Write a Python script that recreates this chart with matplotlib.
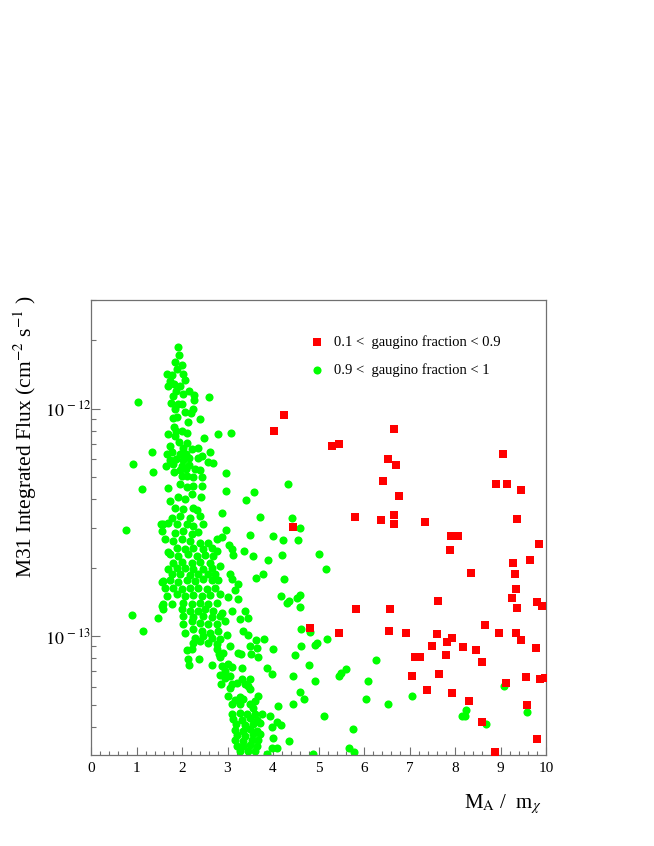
import matplotlib
matplotlib.use("Agg")
import matplotlib.pyplot as plt
import numpy as np
from matplotlib.ticker import MultipleLocator, FixedLocator, NullFormatter

plt.rcParams['font.family'] = ['Liberation Serif', 'DejaVu Serif']
plt.rcParams['mathtext.fontset'] = 'stix'

# 0.1 < gaugino fraction < 0.9  (x = M_A / m_chi, y = log10 flux)
red_x = [4.25, 4.02, 6.67, 5.30, 5.44, 6.52, 6.71, 6.41, 6.78, 5.80, 6.38, 6.67, 6.67, 7.33,
         4.44, 7.91, 8.07, 9.06, 8.91, 9.14, 9.46, 9.37, 7.90, 9.85, 9.65, 9.28, 8.35, 9.31,
         9.33, 9.25, 9.36, 7.63, 5.82, 6.58, 9.80, 9.92, 8.65, 4.82, 5.46, 6.56, 6.92, 7.61,
         7.94, 7.82, 7.49, 8.18, 8.96, 9.33, 9.46, 9.78, 7.11, 7.22, 7.80, 8.46, 8.59, 7.06,
         7.64, 7.38, 7.94, 8.31, 9.12, 9.57, 9.86, 9.98, 9.59, 8.60, 9.81, 8.88]
red_logflux = [-12.028, -12.099, -12.091, -12.164, -12.154, -12.223, -12.248, -12.320, -12.384,
               -12.477, -12.488, -12.468, -12.507, -12.499, -12.519, -12.562, -12.562, -12.200,
               -12.332, -12.333, -12.359, -12.484, -12.620, -12.595, -12.667, -12.680, -12.724,
               -12.727, -12.792, -12.834, -12.878, -12.846, -12.880, -12.880, -12.849, -12.869,
               -12.952, -12.966, -12.985, -12.978, -12.987, -12.993, -13.007, -13.025, -13.044,
               -13.050, -12.988, -12.988, -13.018, -13.051, -13.091, -13.094, -13.084, -13.063,
               -13.113, -13.174, -13.168, -13.237, -13.249, -13.287, -13.208, -13.180, -13.187,
               -13.183, -13.305, -13.378, -13.454, -13.508]

# 0.9 < gaugino fraction < 1
green_x = [
    1.92, 1.94, 1.85, 2.01, 1.89, 1.68, 1.78, 2.03, 2.07, 1.74, 1.83, 1.70, 1.96, 1.87, 2.16,
    2.03, 1.81, 2.27, 2.59, 2.27, 1.76, 1.92, 2.01, 1.85, 2.24, 2.07, 2.19, 1.81, 1.89, 2.40,
    2.13, 1.83, 1.87, 2.00, 1.70, 2.11, 2.79, 3.08, 2.49, 1.85, 1.94, 2.12, 1.74, 2.03, 2.22,
    2.35, 1.34, 1.67, 1.78, 1.96, 2.09, 2.62, 2.44, 2.36, 1.74, 1.87, 2.03, 2.16, 2.58, 2.69,
    1.65, 1.81, 2.00, 2.16, 1.36, 1.83, 1.96, 2.09, 2.29, 2.40, 2.97, 2.00, 2.11, 2.25, 2.44,
    1.03, 0.92, 1.12, 0.77, 0.90, 1.14, 1.47, 1.55, 1.55, 1.54,
    1.70, 1.96, 2.11, 2.25, 2.44, 2.96, 3.59, 3.41, 1.74, 1.92, 2.07, 2.22, 2.41, 1.85, 2.03,
    2.25, 2.33, 2.88, 3.72, 1.78, 1.96, 2.18, 2.40, 1.59, 1.70, 1.89, 2.11, 2.25, 2.47, 1.56,
    2.97, 1.85, 2.03, 2.22, 2.36, 3.50, 2.88, 2.77, 1.63, 1.81, 2.00, 2.18, 2.40, 2.58, 3.04,
    3.10, 1.89, 2.07, 2.25, 2.47, 2.66, 3.37, 1.70, 2.77, 2.69, 3.11, 3.55, 1.74, 1.92, 2.14,
    2.33, 2.51, 3.88, 1.81, 2.00, 2.22, 2.40, 2.62, 1.70, 1.89, 2.07, 2.25, 2.47, 2.66, 2.84,
    1.78, 1.96, 2.18, 2.36, 2.58, 2.73, 3.79, 3.06, 3.63, 1.59, 1.74, 1.92, 2.11, 2.29, 2.47,
    2.66, 2.80, 3.10, 3.22, 1.63, 1.81, 2.00, 2.18, 2.36, 2.55, 2.73, 3.17, 1.67, 1.89, 2.07,
    2.25, 2.44, 2.62, 2.84, 3.02, 3.22, 1.59, 1.78, 2.03, 2.22, 2.40, 2.58, 2.77, 1.59, 2.00,
    2.18, 2.36, 2.51, 2.69, 2.88, 3.10, 3.39, 2.03, 2.25, 2.47, 2.66, 2.84, 3.28, 3.46,
    4.33, 4.42, 4.59, 4.00, 4.23, 4.54, 4.20, 5.00, 5.17, 4.25, 4.17, 4.60, 4.52, 4.36, 4.31,
    4.60,
    2.03, 2.22, 2.40, 2.58, 2.77, 2.95, 3.34, 2.07, 2.25, 2.44, 2.62, 2.80, 3.44, 2.99, 2.29,
    2.47, 2.66, 2.84, 3.63, 2.25, 2.40, 2.58, 2.77, 3.06, 3.50, 3.65, 4.01, 2.11, 2.22, 2.77,
    2.82, 2.91, 3.22, 3.29, 3.51, 2.84, 3.68, 2.14, 2.38, 2.16, 2.66, 2.88, 3.02, 3.10, 3.32,
    3.87, 2.95, 3.98, 4.44, 2.84, 2.95, 3.06, 3.32, 3.50, 3.39, 3.46, 2.85, 3.10, 3.21, 3.06,
    3.50, 3.02, 3.28, 3.68, 3.17, 3.35, 3.61, 3.10, 3.28, 3.50, 4.12, 4.45, 3.57, 3.10, 3.28,
    3.43, 3.61, 3.76, 3.94, 3.13, 3.32, 3.50, 3.65, 4.09, 3.19, 3.39, 3.57, 3.72, 3.98, 4.17,
    3.17, 3.35, 3.50, 3.65, 3.21, 3.39, 3.57, 3.72, 3.17, 3.35, 3.54, 3.68, 4.01, 4.36, 3.21,
    3.35, 3.50, 3.65, 3.98, 4.09, 3.28, 3.46, 3.61, 3.87,
    4.61, 4.81, 4.62, 4.93, 4.97, 5.19, 4.48, 4.80, 6.27, 4.92, 5.44, 5.50, 5.60, 6.08, 4.59,
    4.68, 6.05, 6.52, 7.05, 5.13, 5.75, 5.68, 5.79, 4.87, 8.24, 8.16, 8.23, 8.68, 9.07, 9.59,
    3.81]
green_logflux = [
    -11.729, -11.764, -11.795, -11.810, -11.824, -11.846, -11.852, -11.849, -11.876, -11.879,
    -11.890, -11.903, -11.901, -11.923, -11.925, -11.934, -11.945, -11.942, -11.949, -11.964,
    -11.974, -11.981, -11.978, -12.003, -12.003, -12.013, -12.021, -12.043, -12.037, -12.047,
    -12.057, -12.081, -12.099, -12.099, -12.110, -12.106, -12.112, -12.109, -12.128, -12.120,
    -12.145, -12.150, -12.164, -12.172, -12.179, -12.175, -12.191, -12.201, -12.193, -12.198,
    -12.198, -12.193, -12.208, -12.219, -12.227, -12.223, -12.227, -12.219, -12.235, -12.241,
    -12.252, -12.242, -12.252, -12.249, -12.281, -12.277, -12.271, -12.267, -12.267, -12.271,
    -12.285, -12.296, -12.296, -12.301, -12.301,
    -11.971, -12.245, -12.355, -12.534, -12.908, -12.979, -12.919, -12.761, -12.868, -12.509,
    -12.350, -12.333, -12.347, -12.340, -12.340, -12.362, -12.369, -12.403, -12.406, -12.391,
    -12.399, -12.377, -12.391, -12.435, -12.443, -12.435, -12.447, -12.457, -12.477, -12.479,
    -12.472, -12.479, -12.472, -12.509, -12.501, -12.509, -12.506, -12.516, -12.509, -12.538,
    -12.535, -12.545, -12.538, -12.550, -12.541, -12.556, -12.565, -12.572, -12.575, -12.582,
    -12.575, -12.582, -12.589, -12.589, -12.600, -12.619, -12.611, -12.619, -12.614, -12.619,
    -12.611, -12.626, -12.629, -12.626, -12.648, -12.644, -12.648, -12.641, -12.648, -12.641,
    -12.648, -12.644, -12.667, -12.677, -12.673, -12.677, -12.673, -12.677, -12.707, -12.699,
    -12.702, -12.707, -12.704, -12.699, -12.692, -12.729, -12.729, -12.732, -12.726, -12.729,
    -12.726, -12.726, -12.729, -12.746, -12.758, -12.755, -12.761, -12.755, -12.758, -12.751,
    -12.755, -12.755, -12.751, -12.770, -12.790, -12.787, -12.795, -12.787, -12.790, -12.795,
    -12.787, -12.799, -12.824, -12.817, -12.824, -12.820, -12.824, -12.820, -12.814, -12.828,
    -12.839, -12.861, -12.858, -12.853, -12.861, -12.853, -12.858, -12.853, -12.883, -12.883,
    -12.890, -12.890, -12.883, -12.890, -12.897, -12.890, -12.890, -12.912, -12.916, -12.912,
    -12.916, -12.912, -12.927, -12.922,
    -12.332, -12.482, -12.525, -12.560, -12.578, -12.578, -12.645, -12.639, -12.704, -12.748,
    -12.824, -12.820, -12.833, -12.844, -12.853, -12.872,
    -12.949, -12.934, -12.941, -12.949, -12.945, -12.934, -12.978, -12.985, -12.971, -12.978,
    -12.985, -12.978, -12.996, -12.996, -13.007, -13.000, -13.010, -13.015, -13.019, -13.029,
    -13.022, -13.029, -13.037, -13.044, -13.044, -13.054, -13.058, -13.063, -13.055, -13.058,
    -13.077, -13.073, -13.073, -13.080, -13.077, -13.092, -13.092, -13.102, -13.099, -13.128,
    -13.128, -13.132, -13.124, -13.136, -13.142, -13.142, -13.154, -13.168, -13.176, -13.171,
    -13.183, -13.176, -13.190, -13.190, -13.212, -13.220, -13.212, -13.212, -13.205, -13.227,
    -13.234, -13.264, -13.268, -13.264, -13.283, -13.278, -13.286, -13.300, -13.300, -13.297,
    -13.308, -13.300, -13.318, -13.341, -13.337, -13.344, -13.344, -13.344, -13.352, -13.366,
    -13.371, -13.362, -13.371, -13.376, -13.388, -13.393, -13.388, -13.381, -13.400, -13.391,
    -13.415, -13.418, -13.410, -13.418, -13.435, -13.440, -13.432, -13.429, -13.459, -13.462,
    -13.459, -13.459, -13.450, -13.462, -13.484, -13.484, -13.479, -13.484, -13.491, -13.491,
    -13.506, -13.506, -13.506, -13.520,
    -12.971, -12.982, -13.044, -13.040, -13.031, -13.013, -13.085, -13.126, -13.107, -13.198,
    -13.176, -13.164, -13.146, -13.196, -13.248, -13.277, -13.278, -13.299, -13.265, -13.352,
    -13.409, -13.491, -13.508, -13.520, -13.325, -13.350, -13.350, -13.385, -13.220, -13.332,
    -13.015]

red_label = "0.1 <  gaugino fraction < 0.9"
green_label = "0.9 <  gaugino fraction < 1"
y_major = [1e-13, 1e-12]

fig = plt.figure(figsize=(6.54, 8.46), dpi=100)
ax = fig.add_axes([91 / 654, 91 / 846, 455 / 654, 455 / 846])

ax.scatter(green_x, 10 ** np.array(green_logflux), s=34, marker='o', color='#00ff00',
           linewidths=0, label=green_label, zorder=2)
ax.scatter(red_x, 10 ** np.array(red_logflux), s=30, marker='s', color='#ff0000',
           linewidths=0, label=red_label, zorder=3)

ax.set_yscale('log')
ax.set_xlim(0, 10)
ax.set_ylim(3e-14, 3e-12)

frame = '#707070'
for side in ['left', 'bottom', 'top', 'right']:
    ax.spines[side].set_color(frame)
    ax.spines[side].set_linewidth(0.9)

ax.xaxis.set_major_locator(MultipleLocator(1))
ax.xaxis.set_minor_locator(MultipleLocator(0.2))
ax.yaxis.set_major_locator(FixedLocator(y_major))
ax.yaxis.set_minor_locator(FixedLocator(
    [m * 10.0 ** e for e in (-14, -13, -12) for m in range(2, 10)
     if 3e-14 < m * 10.0 ** e < 3.01e-12]))
ax.yaxis.set_minor_formatter(NullFormatter())
ax.yaxis.set_major_formatter(plt.FuncFormatter(
    lambda v, p: r'$10^{\,%d}$' % int(round(np.log10(v)))))

ax.tick_params(axis='x', which='major', direction='in', length=6, width=0.8,
               color=frame, labelsize=11, pad=5, top=False)
ax.tick_params(axis='x', which='minor', direction='in', length=3.2, width=0.8,
               color=frame, top=False)
ax.tick_params(axis='y', which='major', direction='in', length=6.5, width=0.8,
               color=frame, labelsize=13, pad=0, right=False)
ax.tick_params(axis='y', which='minor', direction='in', length=3.6, width=0.8,
               color=frame, right=False)

handles, labels = ax.get_legend_handles_labels()
ax.legend(handles[::-1], labels[::-1], loc='upper left', bbox_to_anchor=(0.448, 0.952),
          frameon=False, fontsize=10.5, labelspacing=1.0, handletextpad=0.6,
          handlelength=1.2, markerscale=1.0)

fig.text(25 / 654, 1 - 296 / 846, r'M31 Integrated Flux (cm$^{-2}$ s$^{-1}$ )',
         rotation=90, ha='center', va='top', fontsize=15.5)
fig.text(542 / 654, 1 - 808 / 846, r'M$_{\mathrm{A}}$ /  m$_{\chi}$',
         ha='right', va='baseline', fontsize=15)

fig.savefig('out.png', dpi=100)
